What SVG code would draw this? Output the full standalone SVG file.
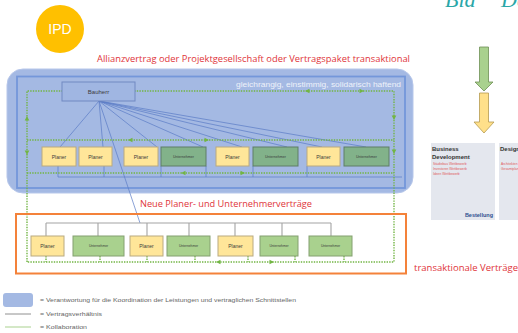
<svg xmlns="http://www.w3.org/2000/svg" xmlns:xlink="http://www.w3.org/1999/xlink" width="518" height="333" viewBox="0 0 518 333">
<style>
.t{font-family:"Liberation Sans",Arial,sans-serif}
.red{font-family:"Open Sans","Liberation Sans",sans-serif;fill:#E0343A}
.pl{fill:#FFE699;stroke:#B9AA80;stroke-width:1}
.un1{fill:#82B28A;stroke:#5E7E66;stroke-width:1}
.un2{fill:#A9D18E;stroke:#84A070;stroke-width:1}
.bt{font-family:"Liberation Sans",Arial,sans-serif;fill:#3C3C3C;text-anchor:middle}
.dot{fill:none;stroke:#72B544;stroke-width:1.4;stroke-dasharray:1.4 1.2}
.bl{fill:none;stroke:#5A7BC6;stroke-width:0.7}
.gr{fill:none;stroke:#A4A4A4;stroke-width:1.1}
.ah{fill:#72B544}
.leg{font-family:"Liberation Sans",Arial,sans-serif;font-size:5px;fill:#666}
</style>
<defs>
<path id="ah" d="M2,0 L-2.5,-2.3 L-2.5,2.3Z"/>
</defs>
<rect width="518" height="333" fill="#fff"/>

<!-- right side partial content -->
<g id="topright">
<text x="445" y="7" font-family="Liberation Serif,serif" font-style="italic" font-size="22" fill="#2AA7A8">Bid</text>
<text x="501" y="7" font-family="Liberation Serif,serif" font-style="italic" font-size="22" fill="#2AA7A8">De</text>
</g>
<g id="arrows-right">
<path d="M479.5,47 H488.5 V82 H493 L484,91 L475,82 H479.5Z" fill="#A9D18E" stroke="#6E8F56" stroke-width="0.8"/>
<path d="M479.5,93 H488.5 V122 H494 L484,133 L474,122 H479.5Z" fill="#FFE08A" stroke="#B59A50" stroke-width="0.8"/>
</g>
<g id="card-bd">
<rect x="431" y="143" width="64" height="77" fill="#E4E7EE"/>
<text x="432" y="151" class="t" font-size="6" font-weight="bold" fill="#333">Business</text>
<text x="432" y="159" class="t" font-size="6" font-weight="bold" fill="#333">Development</text>
<text x="433" y="165" class="t" font-size="3.3" fill="#E05A5A">Städtebau Wettbewerb</text>
<text x="433" y="170" class="t" font-size="3.3" fill="#E05A5A">Investoren Wettbewerb</text>
<text x="433" y="175" class="t" font-size="3.3" fill="#E05A5A">Ideen Wettbewerb</text>
<text x="493" y="217" class="t" font-size="5.5" font-weight="bold" fill="#2F4F8F" text-anchor="end">Bestellung</text>
</g>
<g id="card-design">
<rect x="499" y="143" width="30" height="77" fill="#E4E7EE"/>
<text x="500" y="151" class="t" font-size="6" font-weight="bold" fill="#333">Design</text>
<text x="501" y="165" class="t" font-size="3.3" fill="#E05A5A">Architekten Wettbewerb</text>
<text x="501" y="170" class="t" font-size="3.3" fill="#E05A5A">Gesamtplaner Wettbewerb</text>
</g>

<g id="ipd">
<circle cx="60" cy="29" r="24" fill="#FFC000"/>
<text x="60" y="34" class="t" font-size="14" fill="#fff" text-anchor="middle">IPD</text>
</g>

<text x="97" y="62" class="red" font-size="8.4" textLength="313" lengthAdjust="spacingAndGlyphs">Allianzvertrag oder Projektgesellschaft oder Vertragspaket transaktional</text>

<g id="alliance">
<rect x="7" y="69" width="406" height="124" rx="16" fill="#A4B9E3" stroke="#B7C7EA" stroke-width="1"/>
<rect x="17" y="76.5" width="388" height="111.5" fill="none" stroke="#7497DA" stroke-width="1.8"/>
<text x="401" y="87" class="t" font-size="7.8" fill="#EEF2FA" text-anchor="end" textLength="165" lengthAdjust="spacingAndGlyphs">gleichrangig, einstimmig, solidarisch haftend</text>
</g>

<g id="connectors">
<!-- blue contract lines -->
<path class="bl" d="M99,101 L60,147 M99,101 L103,147 M99,101 L157,147 M99,101 L203,147 M99,101 L242,147 M99,101 L287,147 M99,101 L322,147 M99,101 L366,147 M99,101 L140,223"/>
<path class="bl" d="M58,166 V177 M104,166 V177 M161,166 V177 M206,166 V177 M253,166 V177 M307,166 V177 M58,177 H402"/>
<!-- grey tree lower -->
<path class="gr" d="M46,223 H331 M46,223 V236 M98,223 V236 M147,223 V236 M189,223 V236 M235,223 V236 M282,223 V236 M331,223 V236"/>
<!-- green dotted collaboration -->
<path class="dot" d="M27,262 V91 H394 V262 H27"/>
<path class="dot" d="M27,140 H394 M27,173 H394"/>
<path class="dot" d="M46,256 V262 M100,256 V262 M147,256 V262 M195,256 V262 M248,256 V262 M295,256 V262 M344,256 V262"/>
<use xlink:href="#ah" class="ah" transform="translate(307,91) rotate(180)"/>
<use xlink:href="#ah" class="ah" transform="translate(362,91)"/>
<use xlink:href="#ah" class="ah" transform="translate(27,118) rotate(-90)"/>
<use xlink:href="#ah" class="ah" transform="translate(27,153) rotate(90)"/>
<use xlink:href="#ah" class="ah" transform="translate(394,118) rotate(90)"/>
<use xlink:href="#ah" class="ah" transform="translate(394,152) rotate(90)"/>
<use xlink:href="#ah" class="ah" transform="translate(130,140) rotate(180)"/>
<use xlink:href="#ah" class="ah" transform="translate(207,140)"/>
<use xlink:href="#ah" class="ah" transform="translate(183,173) rotate(180)"/>
<use xlink:href="#ah" class="ah" transform="translate(243,173)"/>
<use xlink:href="#ah" class="ah" transform="translate(218,262) rotate(180)"/>
<use xlink:href="#ah" class="ah" transform="translate(272,262)"/>
</g>

<g id="bauherr">
<rect x="62" y="82" width="73" height="19" fill="#A0B6E2" stroke="#7189C2" stroke-width="1"/>
<text x="98.5" y="94" class="bt" font-size="6" fill="#3A4A72">Bauherr</text>
</g>

<!-- middle row -->
<g id="m1"><rect class="pl" x="42" y="147" width="34" height="19"/><text class="bt" x="59" y="158.5" font-size="5">Planer</text></g>
<g id="m2"><rect class="pl" x="79" y="147" width="33" height="19"/><text class="bt" x="95.5" y="158.5" font-size="5">Planer</text></g>
<g id="m3"><rect class="pl" x="124" y="147" width="34" height="19"/><text class="bt" x="141" y="158.5" font-size="5">Planer</text></g>
<g id="m4"><rect class="un1" x="161" y="147" width="45" height="19"/><text class="bt" x="183.5" y="158" font-size="3.6">Unternehmer</text></g>
<g id="m5"><rect class="pl" x="216" y="147" width="33" height="19"/><text class="bt" x="232.5" y="158.5" font-size="5">Planer</text></g>
<g id="m6"><rect class="un1" x="253" y="147" width="45" height="19"/><text class="bt" x="275.5" y="158" font-size="3.6">Unternehmer</text></g>
<g id="m7"><rect class="pl" x="307" y="147" width="33" height="19"/><text class="bt" x="323.5" y="158.5" font-size="5">Planer</text></g>
<g id="m8"><rect class="un1" x="344" y="147" width="45" height="19"/><text class="bt" x="366.5" y="158" font-size="3.6">Unternehmer</text></g>

<text x="140" y="207" class="red" font-size="8.6" textLength="172" lengthAdjust="spacingAndGlyphs">Neue Planer- und Unternehmerverträge</text>

<g id="transactional">
<rect x="16" y="214" width="390" height="59.5" fill="none" stroke="#F4823A" stroke-width="2"/>
</g>
<text x="414" y="271" class="red" font-size="8.4" textLength="104" lengthAdjust="spacingAndGlyphs">transaktionale Verträge</text>

<!-- lower row -->
<g id="l1"><rect class="pl" x="31" y="236" width="33" height="20"/><text class="bt" x="47.5" y="247.5" font-size="5">Planer</text></g>
<g id="l2"><rect class="un2" x="73" y="236" width="51" height="20"/><text class="bt" x="98.5" y="247" font-size="3.3">Unternehmer</text></g>
<g id="l3"><rect class="pl" x="130" y="236" width="33" height="20"/><text class="bt" x="146.5" y="247.5" font-size="5">Planer</text></g>
<g id="l4"><rect class="un2" x="167" y="236" width="43" height="20"/><text class="bt" x="188.5" y="247" font-size="3.3">Unternehmer</text></g>
<g id="l5"><rect class="pl" x="218" y="236" width="35" height="20"/><text class="bt" x="235.5" y="247.5" font-size="5">Planer</text></g>
<g id="l6"><rect class="un2" x="260" y="236" width="38" height="20"/><text class="bt" x="279" y="247" font-size="3.3">Unternehmer</text></g>
<g id="l7"><rect class="un2" x="309" y="236" width="43" height="20"/><text class="bt" x="330.5" y="247" font-size="3.3">Unternehmer</text></g>

<g id="legend">
<rect x="3" y="293" width="30" height="14" rx="3" fill="#A4B9E3"/>
<text class="leg" x="40" y="302" textLength="256" lengthAdjust="spacingAndGlyphs">= Verantwortung für die Koordination der Leistungen und vertraglichen Schnittstellen</text>
<line x1="5" y1="314" x2="31" y2="314" stroke="#909090" stroke-width="1"/>
<text class="leg" x="40" y="316" textLength="62" lengthAdjust="spacingAndGlyphs">= Vertragsverhältnis</text>
<line x1="5" y1="327" x2="31" y2="327" stroke="#A9D18E" stroke-width="1"/>
<text class="leg" x="40" y="329" textLength="47" lengthAdjust="spacingAndGlyphs">= Kollaboration</text>
</g>
</svg>
